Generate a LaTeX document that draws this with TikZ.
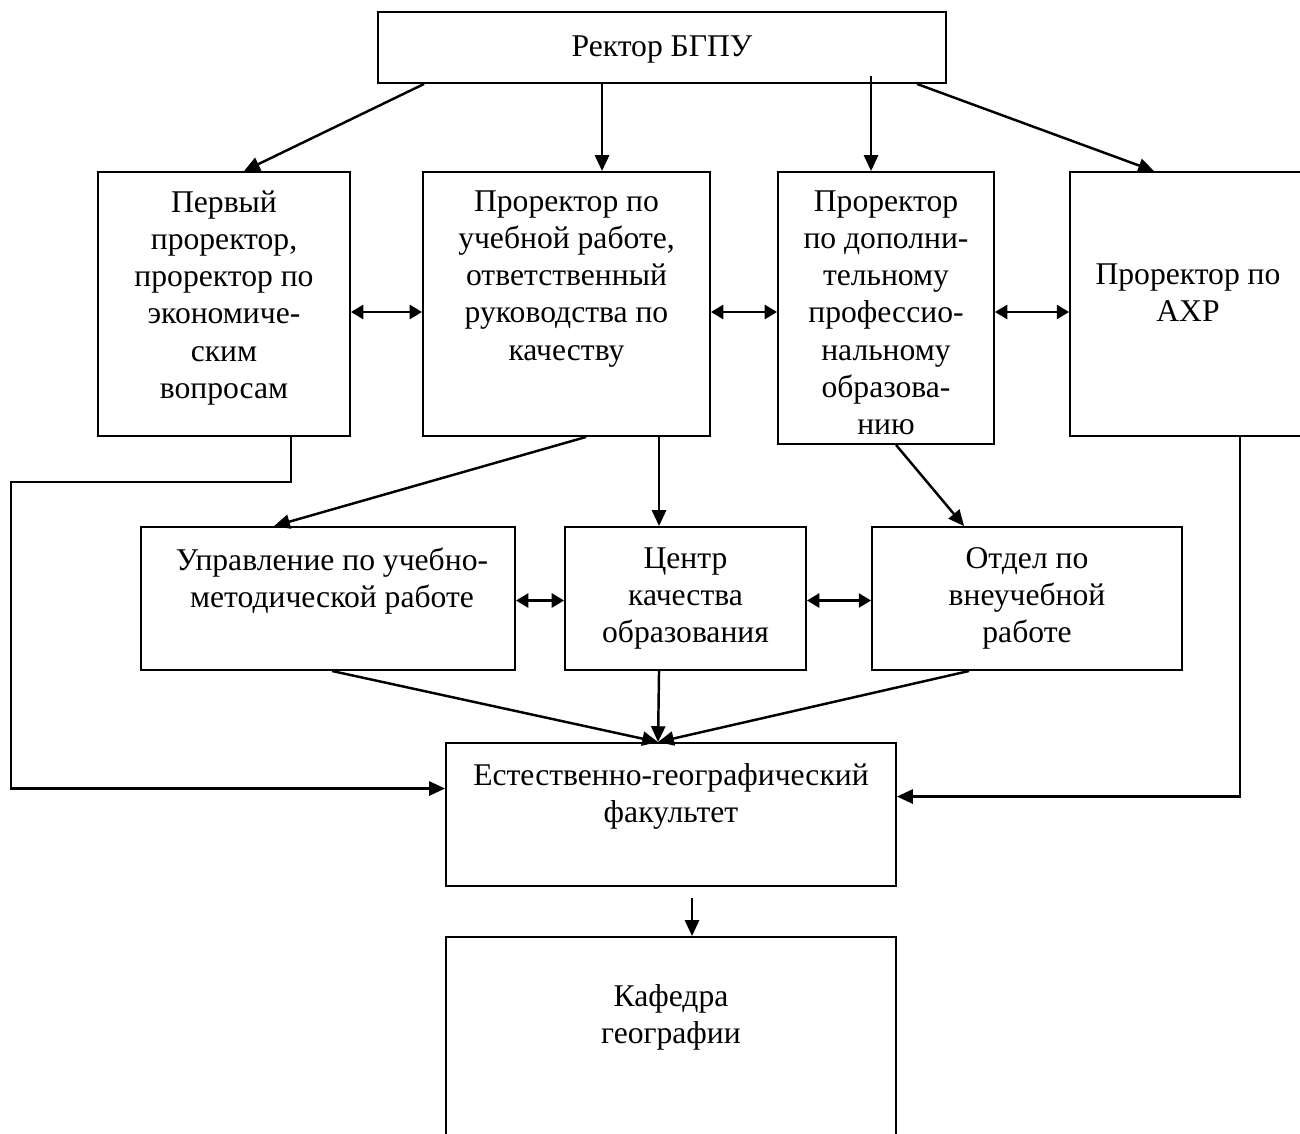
\documentclass[tikz,border=0pt]{standalone}
\usepackage{fontspec}
\setmainfont{Liberation Serif}
\usetikzlibrary{calc,fit,arrows.meta}
\tikzset{
	blk/.style={draw, line width=1.1pt, inner sep=0pt},
	txt/.style={align=center, inner sep=0pt, anchor=north, font=\fontsize{18}{21.2}\selectfont},
	arr/.style={line width=1.4pt, -{Triangle[length=9pt,width=8pt]}},
	dbl/.style={line width=1.4pt, {Triangle[length=7pt,width=8pt]}-{Triangle[length=7pt,width=8pt]}}
}

\begin{document}
\begin{tikzpicture}[x=0.02cm, y=-0.02cm]
			%%%%% START %%%%%
			\useasboundingbox (0,0) rectangle (1300,1133);
			
			\node[blk, fit={(378,12) (946,83)}] (rect) {};
			\node[txt] (rectt) at ($(rect.north)+(0,24)$) {Ректор БГПУ};
			
			\node[blk, fit={(98,172) (350,436)}] (b1) {};
			\node[txt] (b1t) at ($(b1.north)+(0,19)$) {Первый\\проректор,\\проректор по\\экономиче-\\ским\\вопросам};
			\node[blk, fit={(423,172) (710,436)}] (b2) {};
			\node[txt] (b2t) at ($(b2.north)+(0,19)$) {Проректор по\\учебной работе,\\ответственный\\руководства по\\качеству};
			\node[blk, fit={(778,172) (994,444)}] (b3) {};
			\node[txt] (b3t) at ($(b3.north)+(0,19)$) {Проректор\\по дополни-\\тельному\\профессио-\\нальному\\образова-\\нию};
			\node[blk, fit={(1070,172) (1306,436)}] (b4) {};
			\node[txt] (b4t) at ($(b4.north)+(0,92)$) {Проректор по\\АХР};
			
			\node[blk, fit={(141,527) (515,670)}] (u1) {};
			\node[txt] (u1t) at ($(u1.north)+(4,21)$) {Управление по учебно-\\методической работе};
			\node[blk, fit={(565,527) (806,670)}] (u2) {};
			\node[txt] (u2t) at ($(u2.north)+(0,21)$) {Центр\\качества\\образования};
			\node[blk, fit={(872,527) (1182,670)}] (u3) {};
			\node[txt] (u3t) at ($(u3.north)+(0,21)$) {Отдел по\\внеучебной\\работе};
			
			\node[blk, fit={(446,743) (896,886)}] (fac) {};
			\node[txt] (fact) at ($(fac.north)+(0,21)$) {Естественно-географический\\факультет};
			\node[blk, fit={(446,937) (896,1150)}] (kaf) {};
			\node[txt] (kaft) at ($(kaf.north)+(0,48)$) {Кафедра\\географии};
			
			% from the rector
			\draw[arr] ($(rect.south west)+(47,0)$) -- ($(b1.north west)+(147,0)$);
			\draw[arr] ($(rect.south west)+(225,0)$) -- ($(b2.north west)+(180,0)$);
			\draw[arr] ($(rect.south west)+(494,-8)$) -- ($(b3.north west)+(94,0)$);
			\draw[arr] ($(rect.south west)+(540,0)$) -- ($(b4.north west)+(85,0)$);
			
			\draw[dbl] ($(b1.east)+(0,8)$) -- ($(b2.west)+(0,8)$);
			\draw[dbl] ($(b2.east)+(0,8)$) -- ($(b3.west)+(0,4)$);
			\draw[dbl] ($(b3.east)+(0,4)$) -- ($(b4.west)+(0,8)$);
			
			\draw[arr] ($(b2.south west)+(164,0)$) -- ($(u1.north west)+(134,0)$);
			\draw[arr] ($(b2.south west)+(237,0)$) -- ($(u2.north west)+(95,0)$);
			\draw[arr] ($(b3.south west)+(119,0)$) -- ($(u3.north west)+(93,0)$);
			
			\draw[dbl] ($(u1.east)+(0,2)$) -- ($(u2.west)+(0,2)$);
			\draw[dbl] ($(u2.east)+(0,2)$) -- ($(u3.west)+(0,2)$);
			
			% into the faculty
			\draw[arr] ($(u1.south west)+(192,0)$) -- ($(fac.north west)+(213,0)$);
			\draw[arr] ($(u2.south west)+(95,0)$) -- ($(fac.north west)+(213,0)$);
			\draw[arr] ($(u3.south west)+(98,0)$) -- ($(fac.north west)+(213,0)$);
			
			\draw[arr] ($(b1.south west)+(194,0)$) -- ++(0,45) -- ++(-280,0) |- ($(fac.west)+(0,-26)$);
			\draw[arr] ($(b4.south west)+(171,0)$) |- ($(fac.east)+(0,-18)$);
			
			\draw[arr] ($(fac.south west)+(247,11)$) -- ($(kaf.north west)+(247,0)$);
			
			%%%%% END %%%%%
\end{tikzpicture}
\end{document}
